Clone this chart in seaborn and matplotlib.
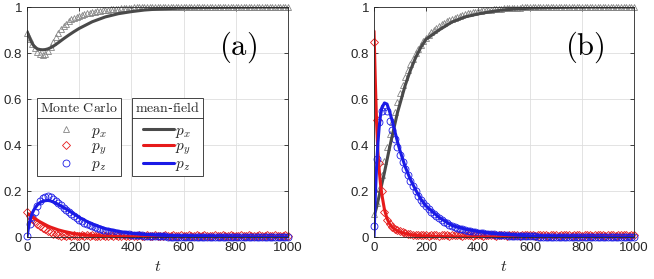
import matplotlib
matplotlib.use('Agg')
import matplotlib.pyplot as plt
import seaborn as sns
from matplotlib.lines import Line2D

# Monte Carlo samples (every 10 steps) and mean-field curves
t_mc = list(range(0, 1001, 10))

a_px_mc = [0.885, 0.862, 0.840, 0.822, 0.806, 0.795, 0.790, 0.794, 0.808, 0.828,
           0.850, 0.870, 0.888, 0.903, 0.916, 0.928, 0.938, 0.946, 0.952, 0.957,
           0.962, 0.966, 0.970, 0.973, 0.976, 0.978, 0.980, 0.982, 0.984, 0.986,
           0.988, 0.989, 0.990, 0.991, 0.992, 0.993, 0.994, 0.995, 0.996, 0.997,
           0.997, 0.998, 0.998, 0.999, 0.998, 0.999, 1.000, 0.999, 1.000, 0.999,
           1.000, 1.001, 0.999, 1.000, 1.000, 1.001, 1.000, 0.999, 1.000, 1.001,
           1.000, 1.000, 1.001, 0.999, 1.000, 1.000, 1.001, 1.000, 1.000, 0.999,
           1.000, 1.001, 1.000, 1.000, 0.999, 1.000, 1.001, 1.000, 1.000, 1.000,
           1.001, 1.000, 0.999, 1.000, 1.000, 1.001, 1.000, 1.000, 0.999, 1.000,
           1.000, 1.001, 1.000, 1.000, 1.000, 0.999, 1.000, 1.001, 1.000, 1.000,
           1.000]
a_py_mc = [0.110, 0.090, 0.078, 0.068, 0.058, 0.048, 0.040, 0.033, 0.027, 0.020,
           0.015, 0.011, 0.008, 0.006, 0.009, 0.005, 0.007, 0.004, 0.008, 0.006,
           0.005, 0.008, 0.004, 0.007, 0.006, 0.009, 0.005, 0.006, 0.004, 0.008,
           0.006, 0.005, 0.008, 0.004, 0.007, 0.006, 0.005, 0.009, 0.006, 0.004,
           0.007, 0.005, 0.006, 0.008, 0.004, 0.006, 0.007, 0.005, 0.006, 0.008,
           0.005, 0.006, 0.004, 0.007, 0.006, 0.005, 0.008, 0.006, 0.004, 0.007,
           0.006, 0.005, 0.007, 0.004, 0.006, 0.008, 0.005, 0.006, 0.007, 0.004,
           0.006, 0.005, 0.008, 0.006, 0.004, 0.007, 0.005, 0.006, 0.008, 0.005,
           0.004, 0.006, 0.007, 0.005, 0.006, 0.008, 0.004, 0.006, 0.005, 0.007,
           0.006, 0.004, 0.008, 0.005, 0.006, 0.007, 0.005, 0.004, 0.006, 0.007,
           0.006]
a_pz_mc = [0.005, 0.055, 0.085, 0.110, 0.135, 0.155, 0.168, 0.175, 0.177, 0.173,
           0.167, 0.158, 0.148, 0.138, 0.128, 0.118, 0.108, 0.099, 0.090, 0.082,
           0.075, 0.068, 0.062, 0.056, 0.051, 0.046, 0.042, 0.038, 0.034, 0.031,
           0.028, 0.025, 0.023, 0.021, 0.019, 0.017, 0.015, 0.014, 0.012, 0.011,
           0.010, 0.009, 0.008, 0.007, 0.007, 0.006, 0.005, 0.005, 0.004, 0.004,
           0.004, 0.003, 0.003, 0.003, 0.002, 0.002, 0.002, 0.002, 0.001, 0.002,
           0.001, 0.001, 0.002, 0.001, 0.001, 0.000, 0.001, 0.001, 0.000, 0.001,
           0.001, 0.000, 0.001, 0.000, 0.001, 0.000, 0.000, 0.001, 0.000, 0.000,
           0.001, 0.000, 0.000, 0.000, 0.001, 0.000, 0.000, 0.000, 0.000, 0.001,
           0.000, 0.000, 0.001, 0.000, 0.000, 0.000, 0.000, 0.001, 0.000, 0.000,
           0.000]

b_px_mc = [0.100, 0.150, 0.210, 0.270, 0.330, 0.390, 0.450, 0.500, 0.545, 0.585,
           0.625, 0.660, 0.695, 0.725, 0.752, 0.776, 0.798, 0.818, 0.836, 0.852,
           0.866, 0.879, 0.890, 0.900, 0.909, 0.917, 0.925, 0.932, 0.938, 0.944,
           0.949, 0.954, 0.958, 0.962, 0.966, 0.969, 0.972, 0.975, 0.977, 0.979,
           0.981, 0.983, 0.985, 0.986, 0.988, 0.989, 0.990, 0.991, 0.992, 0.993,
           0.994, 0.995, 0.995, 0.996, 0.996, 0.997, 0.997, 0.998, 0.998, 0.998,
           0.999, 0.999, 0.999, 1.000, 0.999, 1.000, 1.000, 0.999, 1.000, 1.000,
           1.000, 1.001, 1.000, 1.000, 0.999, 1.000, 1.000, 1.001, 1.000, 1.000,
           1.000, 1.000, 0.999, 1.000, 1.001, 1.000, 1.000, 1.000, 0.999, 1.000,
           1.000, 1.001, 1.000, 1.000, 1.000, 0.999, 1.000, 1.000, 1.001, 1.000,
           1.000]
b_py_mc = [0.850, 0.510, 0.320, 0.200, 0.110, 0.075, 0.055, 0.045, 0.035, 0.030,
           0.025, 0.020, 0.017, 0.015, 0.012, 0.010, 0.009, 0.008, 0.010, 0.007,
           0.008, 0.006, 0.009, 0.007, 0.008, 0.006, 0.009, 0.007, 0.008, 0.006,
           0.009, 0.007, 0.008, 0.010, 0.006, 0.008, 0.007, 0.009, 0.006, 0.008,
           0.007, 0.009, 0.006, 0.008, 0.010, 0.007, 0.008, 0.006, 0.009, 0.007,
           0.008, 0.006, 0.009, 0.007, 0.008, 0.010, 0.006, 0.008, 0.007, 0.009,
           0.007, 0.008, 0.006, 0.009, 0.007, 0.008, 0.010, 0.006, 0.008, 0.007,
           0.009, 0.006, 0.008, 0.007, 0.009, 0.008, 0.006, 0.010, 0.007, 0.008,
           0.006, 0.009, 0.007, 0.008, 0.006, 0.009, 0.008, 0.007, 0.010, 0.006,
           0.008, 0.007, 0.009, 0.006, 0.008, 0.007, 0.009, 0.008, 0.006, 0.009,
           0.007]
b_pz_mc = [0.050, 0.340, 0.500, 0.550, 0.565, 0.550, 0.505, 0.465, 0.425, 0.390,
           0.355, 0.325, 0.295, 0.268, 0.243, 0.220, 0.199, 0.180, 0.163, 0.148,
           0.134, 0.121, 0.110, 0.099, 0.090, 0.081, 0.073, 0.066, 0.060, 0.054,
           0.049, 0.044, 0.040, 0.036, 0.033, 0.030, 0.027, 0.025, 0.023, 0.021,
           0.019, 0.017, 0.016, 0.014, 0.013, 0.012, 0.011, 0.010, 0.009, 0.008,
           0.008, 0.007, 0.006, 0.006, 0.005, 0.005, 0.004, 0.004, 0.004, 0.003,
           0.003, 0.003, 0.003, 0.002, 0.002, 0.002, 0.002, 0.002, 0.001, 0.002,
           0.001, 0.001, 0.002, 0.001, 0.001, 0.001, 0.001, 0.000, 0.001, 0.001,
           0.001, 0.000, 0.001, 0.001, 0.000, 0.001, 0.000, 0.001, 0.000, 0.000,
           0.001, 0.000, 0.000, 0.001, 0.000, 0.000, 0.001, 0.000, 0.000, 0.000,
           0.000]

mf_t = [0, 5, 10, 15, 20, 25, 30, 40, 50, 60, 70, 80, 90, 100, 120, 140, 160,
        180, 200, 250, 300, 350, 400, 450, 500, 600, 700, 800, 900, 1000]

a_px_mf = [0.894, 0.880, 0.866, 0.853, 0.842, 0.833, 0.826, 0.818, 0.815, 0.814,
           0.815, 0.818, 0.823, 0.829, 0.845, 0.862, 0.878, 0.893, 0.907, 0.936,
           0.957, 0.971, 0.980, 0.987, 0.991, 0.996, 0.998, 0.999, 1.000, 1.000]
a_py_mf = [0.104, 0.100, 0.096, 0.092, 0.088, 0.084, 0.080, 0.073, 0.066, 0.060,
           0.054, 0.048, 0.043, 0.039, 0.031, 0.025, 0.020, 0.015, 0.012, 0.007,
           0.004, 0.002, 0.001, 0.0005, 0.0, 0.0, 0.0, 0.0, 0.0, 0.0]
a_pz_mf = [0.0, 0.035, 0.065, 0.087, 0.103, 0.115, 0.125, 0.140, 0.150, 0.155,
           0.158, 0.159, 0.157, 0.153, 0.142, 0.128, 0.115, 0.100, 0.085, 0.056,
           0.036, 0.024, 0.016, 0.011, 0.008, 0.004, 0.002, 0.001, 0.0, 0.0]

b_px_mf = [0.090, 0.110, 0.130, 0.155, 0.180, 0.205, 0.230, 0.280, 0.335, 0.390,
           0.440, 0.490, 0.540, 0.580, 0.660, 0.725, 0.780, 0.825, 0.860, 0.900,
           0.935, 0.957, 0.970, 0.980, 0.988, 0.995, 0.998, 1.000, 1.000, 1.000]
b_py_mf = [0.895, 0.680, 0.490, 0.370, 0.290, 0.230, 0.185, 0.120, 0.080, 0.057,
           0.043, 0.034, 0.027, 0.022, 0.015, 0.010, 0.007, 0.005, 0.004, 0.002,
           0.001, 0.0005, 0.0, 0.0, 0.0, 0.0, 0.0, 0.0, 0.0, 0.0]
b_pz_mf = [0.0, 0.180, 0.310, 0.410, 0.480, 0.530, 0.560, 0.583, 0.578, 0.545,
           0.505, 0.460, 0.415, 0.375, 0.305, 0.250, 0.205, 0.165, 0.135, 0.085,
           0.050, 0.034, 0.024, 0.016, 0.011, 0.005, 0.002, 0.001, 0.0, 0.0]

x_ticks = [0, 200, 400, 600, 800, 1000]
y_ticks = [0, 0.2, 0.4, 0.6, 0.8, 1]
y_tick_labels = ['0', '0.2', '0.4', '0.6', '0.8', '1']
series_labels = [r'$p_x$', r'$p_y$', r'$p_z$']
panel_labels = [r'$\mathrm{(a)}$', r'$\mathrm{(b)}$']

gray_mc = '#858585'
dark = '#4a4a4a'
red = '#e61a1a'
blue = '#1a1ae6'
ink = '#262626'

sns.set_theme(style='ticks')
plt.rcParams['font.family'] = ['Liberation Sans', 'DejaVu Sans']
plt.rcParams['mathtext.fontset'] = 'cm'

fig, axes = plt.subplots(1, 2, figsize=(6.54, 2.79), dpi=100)
axes[0].set_position([0.0413, 0.1505, 0.3991, 0.8243])
axes[1].set_position([0.5719, 0.1505, 0.3976, 0.8243])

panels = [
    (a_px_mc, a_py_mc, a_pz_mc, a_px_mf, a_py_mf, a_pz_mf),
    (b_px_mc, b_py_mc, b_pz_mc, b_px_mf, b_py_mf, b_pz_mf),
]
mc_style = [('^', gray_mc, 5.0), ('D', red, 4.0), ('o', blue, 5.0)]
mf_colors = [dark, red, blue]

for ax, data, plab in zip(axes, panels, panel_labels):
    for y, (mk, c, ms) in zip(data[:3], mc_style):
        sns.lineplot(x=t_mc, y=y, ax=ax, marker=mk, linestyle='none',
                     markerfacecolor='none', markeredgecolor=c,
                     markersize=ms, markeredgewidth=0.6,
                     errorbar=None, legend=False, clip_on=False)
    for y, c in zip(data[3:], mf_colors):
        sns.lineplot(x=mf_t, y=y, ax=ax, color=c, linewidth=2.2,
                     errorbar=None, legend=False)

    ax.set_xlim(0, 1000)
    ax.set_ylim(0, 1)
    ax.set_xticks(x_ticks)
    ax.set_yticks(y_ticks)
    ax.set_yticklabels(y_tick_labels)
    ax.grid(True, color='#dedede', linewidth=0.6)
    ax.set_axisbelow(True)
    ax.tick_params(direction='in', length=3, width=0.6, top=True, right=True,
                   labelsize=9.5, colors=ink)
    for sp in ax.spines.values():
        sp.set_visible(True)
        sp.set_color(ink)
        sp.set_linewidth(0.6)
    ax.set_xlabel(r'$t$', fontsize=11.5, color=ink, labelpad=4)
    ax.set_ylabel('')
    ax.text(0.81, 0.826, plab, transform=ax.transAxes, fontsize=22,
            ha='center', va='center', color='black')

# legends in panel (a)
ax = axes[0]
mc_handles = [Line2D([], [], marker=mk, ls='none', mfc='none', mec=c,
                     ms=ms, mew=0.6)
              for mk, c, ms in mc_style]
mf_handles = [Line2D([], [], color=c, lw=2.2) for c in mf_colors]

common = dict(loc='upper left', borderaxespad=0, fancybox=False, framealpha=1,
              edgecolor=ink, fontsize=11, title_fontsize=10, labelspacing=0.0,
              borderpad=0.2)
leg1 = ax.legend(mc_handles, series_labels, title=r'$\mathrm{Monte\ Carlo}$',
                 bbox_to_anchor=(0.038, 0.603), handlelength=2.0,
                 handletextpad=0.6, **common)
ax.add_artist(leg1)
leg2 = ax.legend(mf_handles, series_labels, title=r'$\mathrm{mean}$-$\mathrm{field}$',
                 bbox_to_anchor=(0.402, 0.603), handlelength=2.0,
                 handletextpad=0.1, **common)
for leg in (leg1, leg2):
    leg.get_frame().set_linewidth(0.6)
    leg._legend_box.sep = 6

fig.canvas.draw()
renderer = fig.canvas.get_renderer()
inv = fig.transFigure.inverted()
for leg in (leg1, leg2):
    fb = leg.get_frame().get_window_extent(renderer)
    tb = leg.get_title().get_window_extent(renderer)
    ysep = tb.y0 - 3
    (x0, y0), (x1, y1) = inv.transform([(fb.x0, ysep), (fb.x1, ysep)])
    fig.add_artist(Line2D([x0, x1], [y0, y1], transform=fig.transFigure,
                          color=ink, lw=0.6, zorder=10))

fig.savefig('out.png', dpi=100)
